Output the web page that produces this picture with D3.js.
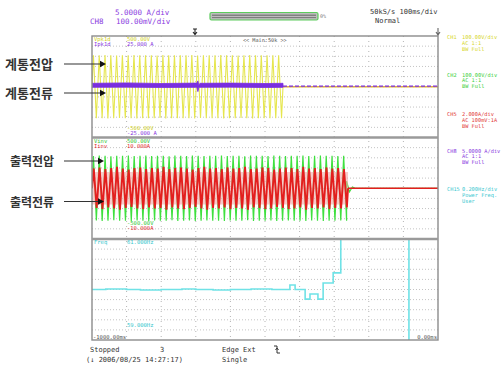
<!DOCTYPE html>
<html><head><meta charset="utf-8">
<script src="https://cdn.jsdelivr.net/npm/d3@7"></script>
<style>body{margin:0;background:#fff}svg{display:block}</style>
</head><body><svg id="c" width="502" height="367"></svg>
<script>
// ---------------- data ----------------
const timeDomain = [-1000, 0];           // ms, 100 ms/div
const ch1Span = [-1000, -448];          // grid voltage present
const ch1Amp = [311,309,312,310,308,311,310,312,309,311,310,308,312,310,311,309,310,312,308,311,310,309,312,310,311,308,310,312,309,311,310,309,311];
const ch2Span = [-1000, -260];          // inverter voltage present
const ch2Amp = [318,322,320,316,321,319,323,317,320,322,318,321,319,316,322,320,318,323,321,317,320,319,322,318,321,320,316,323,319,321,318,322,320,317,321,319,323,318,320,322,319,321,317,320];
const ch2Tail = [70,-35,12];
const ch5Amp = [3.9,4.1,3.8,4.0,4.2,3.9,3.7,4.0,4.1,3.8,4.0,3.9,4.2,3.8,4.0,4.1,3.9,3.7,4.0,4.2,3.9,4.0,3.8,4.1,3.9,4.0,4.2,3.8,3.9,4.1,4.0,3.7,3.9,4.1,4.0,3.8,4.2,3.9,4.0,3.8,4.1,3.9,4.0,3.8];
const ch5Band = 3.2;
const ch8T  = [-1000,-900,-800,-700,-697,-694,-691,-688,-600,-500,-448];
const ch8Hi = [1.7,1.9,1.6,1.8,1.8,2.9,0.6,1.7,1.8,1.6,1.7];
const ch8Lo = [-0.3,-0.2,-0.4,-0.3,-0.3,-2.4,-0.3,-0.3,-0.2,-0.4,-0.3];
const ch8After = 0.3;
const ch15T = [-1000,-960,-900,-860,-800,-740,-700,-650,-600,-540,-480,-428,-413,-384,-370,-347,-332,-303,-281,-84,0];
const ch15F = [60.00,60.01,60.00,59.99,60.00,60.01,60.00,59.99,60.00,60.01,60.00,60.09,60.00,59.81,59.91,59.81,60.13,60.33,62.5,57.5,57.5];
const panel1Range = {v:[-500,500], i:[-25,25]};
const panel2Range = {v:[-500,500], i:[-10,10]};
const panel3Range = [59,61];
const annotationLabels = ["계통전압","계통전류","출력전압","출력전류"];
const rightLabels = [
  {name:"CH1",  lines:["100.00V/div","AC  1:1","BW Full"], color:"#d6d62a"},
  {name:"CH2",  lines:["100.00V/div","AC  1:1","BW Full"], color:"#3ccf3c"},
  {name:"CH5",  lines:["2.000A/div","AC 100mV:1A","BW Full"], color:"#e23a3a"},
  {name:"CH8",  lines:["5.0000 A/div","AC  1:1","BW Full"], color:"#8a3be0"},
  {name:"CH15", lines:["0.200Hz/div","Power Freq.","User"], color:"#3cc8d0"}
];

// ---------------- layout ----------------
const svg = d3.select("#c");
const X0=92, X1=438, Y0=36, Y1=340;
const P = [[36,137.5],[137.5,239],[239,340]];
const x = d3.scaleLinear().domain(timeDomain).range([X0,X1]);
const y1v = d3.scaleLinear().domain(panel1Range.v).range([P[0][1],P[0][0]]);
const y1i = d3.scaleLinear().domain(panel1Range.i).range([P[0][1],P[0][0]]);
const y2v = d3.scaleLinear().domain(panel2Range.v).range([P[1][1],P[1][0]]);
const y2i = d3.scaleLinear().domain(panel2Range.i).range([P[1][1],P[1][0]]);
const y3 = d3.scaleLinear().domain(panel3Range).range([P[2][1],P[2][0]]);
const mono = "DejaVu Sans Mono, monospace";

// clip paths
const defs = svg.append("defs");
P.forEach((p,i)=>{
  defs.append("clipPath").attr("id","cp"+i).append("rect")
    .attr("x",X0).attr("y",p[0]).attr("width",X1-X0).attr("height",p[1]-p[0]);
});

// grid
const gGrid = svg.append("g");
const colScale = d3.scaleLinear().domain([0,10]).range([X0,X1]);
d3.range(1,10).forEach(k=>{
  gGrid.append("line").attr("x1",colScale(k)).attr("x2",colScale(k)).attr("y1",Y0).attr("y2",Y1)
    .attr("stroke","#b4b4b4").attr("stroke-width",1).attr("stroke-dasharray","1,4");
});
P.forEach(p=>{
  const rs = d3.scaleLinear().domain([0,10]).range([p[0],p[1]]);
  d3.range(1,10).forEach(k=>{
    gGrid.append("line").attr("x1",X0).attr("x2",X1).attr("y1",rs(k)).attr("y2",rs(k))
      .attr("stroke","#c4c4c4").attr("stroke-width",1).attr("stroke-dasharray","1,2");
  });
});

// zigzag builder using index scales
function zigzag(amps, span, phase){
  const s = d3.scaleLinear().domain([0,amps.length]).range(span);
  const pts=[[span[0],0]];
  amps.forEach((a,i)=>{ pts.push([s(i+phase),a]); pts.push([s(i+phase+0.5),-a]); });
  pts.push([span[1],0]);
  return {pts, s};
}
const line = (ys)=>d3.line().x(d=>x(d[0])).y(d=>ys(d[1]));

// ---- panel 1 ----
const g1 = svg.append("g").attr("clip-path","url(#cp0)");
const z1 = zigzag(ch1Amp, ch1Span, 0.25);
g1.append("path").attr("d",line(y1v)(z1.pts)).attr("fill","none").attr("stroke","#e6e64e").attr("stroke-width",1.1);
g1.append("path").attr("d",line(y1v)([[ch1Span[1],0],[timeDomain[1],0]])).attr("fill","none").attr("stroke","#e0b040").attr("stroke-width",1.4);
const band = ch8T.map((t,i)=>({t,hi:ch8Hi[i],lo:ch8Lo[i]}));
g1.append("path").attr("d",d3.area().x(d=>x(d.t)).y0(d=>y1i(d.lo)).y1(d=>y1i(d.hi))(band))
  .attr("fill","#7a2ee0").attr("stroke","#7a2ee0").attr("stroke-width",0.8);
g1.append("path").attr("d",line(y1i)([[ch8T[ch8T.length-1],ch8After],[timeDomain[1],ch8After]]))
  .attr("fill","none").attr("stroke","#7a2ee0").attr("stroke-width",1.3).attr("stroke-dasharray","4,2");

// ---- panel 2 ----
const g2 = svg.append("g").attr("clip-path","url(#cp1)");
const z2 = zigzag(ch2Amp, ch2Span, 0.25);
const tailPts = z2.pts.slice(0,-1);
const half = (ch2Span[1]-ch2Span[0])/ch2Amp.length/2;
const tailScale = d3.scaleLinear().domain([0,1]).range([ch2Span[1]-half*0.5, ch2Span[1]+half*0.5]);
ch2Tail.forEach((v,i)=>tailPts.push([tailScale(i),v]));
tailPts.push([tailScale(ch2Tail.length),0],[timeDomain[1],0]);
g2.append("path").attr("d",line(y2v)(tailPts)).attr("fill","none").attr("stroke","#3fe03f").attr("stroke-width",1.2);
g2.append("path").attr("d",d3.area().x(d=>x(d)).y0(y2i(-ch5Band)).y1(y2i(ch5Band))(ch2Span))
  .attr("fill","#f4a8a8").attr("opacity",0.6);
const z5 = zigzag(ch5Amp, ch2Span, 0.3);
g2.append("path").attr("d",line(y2i)(z5.pts)).attr("fill","none").attr("stroke","#e41e1e").attr("stroke-width",1.9);
g2.append("path").attr("d",line(y2i)([[ch2Span[1],0],[timeDomain[1],0]])).attr("fill","none").attr("stroke","#e41e1e").attr("stroke-width",1.3);

// ---- panel 3 ----
const g3 = svg.append("g").attr("clip-path","url(#cp2)");
g3.append("path").attr("d",d3.line().x((d,i)=>x(ch15T[i])).y(d=>y3(d)).curve(d3.curveStepAfter)(ch15F))
  .attr("fill","none").attr("stroke","#6fe2e6").attr("stroke-width",1.6);

// frame & separators
svg.append("rect").attr("x",X0).attr("y",Y0).attr("width",X1-X0).attr("height",Y1-Y0)
  .attr("fill","none").attr("stroke","#8c8c8c").attr("stroke-width",1.4);
[P[0][1],P[1][1]].forEach(yy=>{
  svg.append("line").attr("x1",X0).attr("x2",X1).attr("y1",yy).attr("y2",yy).attr("stroke","#9a9a9a").attr("stroke-width",2.4);
});

// in-plot labels
function txt(t,xx,yy,col,size,anchor){
  return svg.append("text").attr("x",xx).attr("y",yy).attr("fill",col).attr("font-family",mono)
    .attr("font-size",size).attr("text-anchor",anchor||"start").text(t);
}
const cY="#cfcf1c", cP="#8a3be0", cG="#33c833", cR="#e03030", cC="#33c6cc";
txt("Vpk1d",94,41,cY,5.5); txt(panel1Range.v[1].toFixed(2)+"V",127,41,cY,5.5);
txt("Ipk1d",94,46,cP,5.5); txt(panel1Range.i[1].toFixed(3)+" A",127,46,cP,5.5);
txt("<< Main:50k >>",243,42,"#555",5.2);
txt(panel1Range.v[0].toFixed(2)+"V",127,130,cY,5.5);
txt(panel1Range.i[0].toFixed(3)+" A",127,135,cP,5.5);
txt("Vinv",94,143,cG,5.5); txt(panel2Range.v[1].toFixed(2)+"V",127,143,cG,5.5);
txt("Iinv",94,148,cR,5.5); txt(panel2Range.i[1].toFixed(3)+"A",127,148,cR,5.5);
txt(panel2Range.v[0].toFixed(2)+"V",127,225,cG,5.5);
txt(panel2Range.i[0].toFixed(3)+"A",127,230,cR,5.5);
txt("Freq",94,244,cC,5.5); txt(panel3Range[1].toFixed(3)+"Hz",127,244,cC,5.5);
txt(panel3Range[0].toFixed(3)+"Hz",127,327,cC,5.5);
txt(timeDomain[0].toFixed(2)+"ms",93,339,"#555",5.5);
txt(timeDomain[1].toFixed(2)+"ms",437,339,"#555",5.5,"end");

// header
txt("5.0000 A/div",115,15,cP,7.5);
txt("CH8",90,24,cP,7.5); txt("100.00mV/div",116,24,cP,7.5);
svg.append("rect").attr("x",210).attr("y",12.5).attr("width",108).attr("height",7.5).attr("fill","#bdbdbd").attr("stroke","#5ccc5c").attr("stroke-width",1.2).attr("rx",1.5);
svg.append("line").attr("x1",212).attr("x2",316).attr("y1",15.2).attr("y2",15.2).attr("stroke","#666").attr("stroke-width",1);
svg.append("line").attr("x1",212).attr("x2",316).attr("y1",17.6).attr("y2",17.6).attr("stroke","#777").attr("stroke-width",1);
txt("0%",320,18,"#777",5);
txt("50kS/s 100ms/div",370,14,"#333",7);
txt("Normal",375,23,"#333",7);
// trigger markers
svg.append("path").attr("d","M193,29 h4 M195,29 v5 M193,32 l2,2.5 l2,-2.5").attr("stroke","#222").attr("fill","none").attr("stroke-width",1.1);
svg.append("path").attr("d","M438,28 v7 M436,32 l2,3 l2,-3").attr("stroke","#666").attr("fill","none").attr("stroke-width",1.1);

// right labels
const rightY=[39,76.5,116,152.5,191];
rightLabels.forEach((r,i)=>{
  txt(r.name,447,rightY[i],r.color,5.3);
  r.lines.forEach((l,j)=>{
    txt(l,462,rightY[i]+j*5.9,r.color,5.3);
  });
});

// footer
txt("Stopped",90,352,"#333",7);
txt("3",160,352,"#333",7);
txt("Edge Ext",222,352,"#333",7);
svg.append("path").attr("d","M274,346 h3 v7 h3 M275.5,350 l1.5,-2 l1.5,2").attr("stroke","#333").attr("fill","none").attr("stroke-width",1);
txt("(↓ 2006/08/25 14:27:17)",86,362,"#333",7);
txt("Single",222,362,"#333",7);

// Korean annotations with arrows
const annY=[64,93,161,201.5];
const annTextX=[5,5,10,10];
const annTipX=[106,106,104,104];
annotationLabels.forEach((t,i)=>{
  svg.append("text").attr("x",annTextX[i]).attr("y",annY[i]+5).attr("fill","#333")
    .attr("font-family","Noto Sans CJK KR").attr("font-weight","bold").attr("font-size",i<2?13:12).text(t);
  svg.append("line").attr("x1",64).attr("x2",annTipX[i]-4).attr("y1",annY[i]).attr("y2",annY[i]).attr("stroke","#333").attr("stroke-width",1.1);
  svg.append("path").attr("d",`M${annTipX[i]},${annY[i]} l-6,-3.2 v6.4 z`).attr("fill","#111");
});
</script></body></html>
